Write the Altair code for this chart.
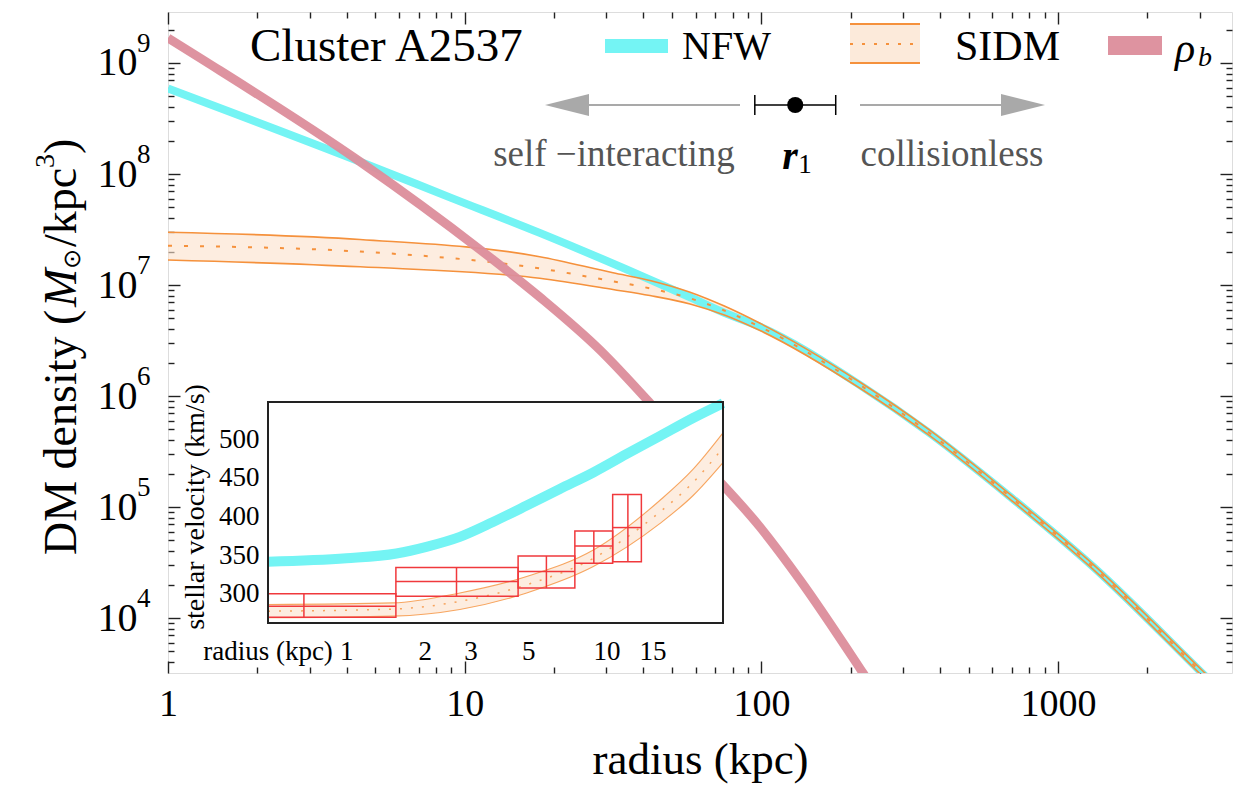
import altair as alt
import pandas as pd

# ---------------- main panel values ----------------
nfw_r   = [1, 4.44, 9, 17.9, 42.1, 57.5, 75, 98.9, 215, 370, 689, 1312, 3055, 4000]
nfw_rho = [5.89e8, 1.29e8, 6.1e7, 2.95e7, 1.12e7, 7.76e6, 5.62e6, 4.21e6, 1.256e6,
           4.61e5, 1.24e5, 2.9e4, 3.2e3, 1.58e3]

rhob_r   = [1, 1.31, 4.44, 11.3, 17.9, 28.6, 42.1, 62.1, 98.9, 135, 220, 260]
rhob_rho = [1.68e9, 1.07e9, 1.29e8, 2.07e7, 7.8e6, 2.59e6, 8.65e5, 2.65e5, 6.61e4, 2.2e4, 3.2e3, 1.62e3]

sidm_r     = [1, 4.44, 17.9, 31.6, 42.1, 57.5, 75, 98.9, 215, 370, 689, 1312, 3055, 4000]
sidm_upper = [2.99e7, 2.57e7, 1.80e7, 1.29e7, 1.10e7, 8.61e6, 6.46e6, 4.52e6, 1.33e6, 4.90e5,
              1.30e5, 3.05e4, 3.39e3, 1.68e3]
sidm_mid   = [2.26e7, 2.0e7, 1.41e7, 1.08e7, 9.33e6, 7.59e6, 5.89e6, 4.21e6, 1.256e6, 4.61e5,
              1.24e5, 2.90e4, 3.20e3, 1.58e3]
sidm_lower = [1.68e7, 1.46e7, 1.15e7, 9.12e6, 8.04e6, 6.76e6, 5.37e6, 3.89e6, 1.175e6, 4.37e5,
              1.175e5, 2.75e4, 3.02e3, 1.50e3]

r1_val = [130]
r1_lo = [95]
r1_hi = [178]

x_major = [1, 10, 100, 1000]
x_minor = [2, 3, 4, 5, 6, 7, 8, 9, 20, 30, 40, 50, 60, 70, 80, 90,
           200, 300, 400, 500, 600, 700, 800, 900, 2000, 3000]
y_major = [1e4, 1e5, 1e6, 1e7, 1e8, 1e9]
y_exp = ["4", "5", "6", "7", "8", "9"]
y_minor = [4e3, 5e3, 6e3, 7e3, 8e3, 9e3] + [k * 10 ** e for e in range(4, 9) for k in range(2, 10)] + [2e9]

# ---------------- inset values ----------------
vel_r   = [0.5, 1, 1.557, 2.03, 2.73, 3.66, 4.93, 6.61, 8.89, 11.9, 16.0, 21.5, 28]
vel_nfw = [341.4, 345.8, 352, 360.6, 373.5, 392.7, 414, 435.5, 456.8, 480.4, 503.8, 527.3, 546.5]

vs_r     = [0.5, 1.51, 2.73, 4.93, 8.89, 16.0, 21.5, 28]
vs_upper = [285.9, 288, 300.9, 322.2, 356.4, 420.5, 461, 508]
vs_mid   = [277.3, 280, 290, 311.5, 345.7, 405.5, 444, 488.8]
vs_lower = [268.8, 270.9, 279.5, 300.9, 335, 390.6, 427, 469.6]

obs_rlo = [0.3, 1.55, 4.57, 7.55, 10.55]
obs_rhi = [1.55, 4.57, 7.55, 10.55, 13.6]
obs_rc  = [0.687, 2.65, 5.87, 8.93, 12.07]
obs_vlo = [269.6, 296.5, 307.3, 339.3, 341.4]
obs_vhi = [300, 333.7, 348.7, 381.2, 428.2]
obs_vc  = [283.8, 315.8, 328.6, 361.5, 385.5]

in_x_labels = [1, 2, 3, 5, 10, 15]
in_x_minor = [2, 3, 4, 5, 6, 7, 8, 9, 10, 11, 12, 13, 14, 15, 16, 17, 18, 19, 20]
in_y_ticks = [300, 350, 400, 450, 500]

# ---------------- styling ----------------
SERIF = "Liberation Serif"
CYAN = "#74F4F4"
PINK = "#DC8D9B"
ORANGE = "#F5913C"
BANDFILL = "#FBE1CB"
RED = "#F0393C"
GRAY = "#A9A9A9"
W, H = 1064, 661

xs = alt.Scale(type="log", domain=[1, 3855], nice=False)
ys = alt.Scale(type="log", domain=[3200, 2.88e9], nice=False)

nfw_df = pd.DataFrame({"r": nfw_r, "rho": nfw_rho})
rhob_df = pd.DataFrame({"r": rhob_r, "rho": rhob_rho})
sidm_df = pd.DataFrame({"r": sidm_r, "up": sidm_upper, "mid": sidm_mid, "lo": sidm_lower})
r1_df = pd.DataFrame({"r": r1_val, "lo": r1_lo, "hi": r1_hi})
ylab_df = pd.DataFrame({"v": y_major, "e": y_exp})


def X(field):
    return alt.X(field, type="quantitative", scale=xs, axis=None)


def Y(field):
    return alt.Y(field, type="quantitative", scale=ys, axis=None)


band_area = alt.Chart(sidm_df).mark_area(color=BANDFILL, opacity=0.6, clip=True, interpolate="monotone").encode(
    x=X("r"), y=Y("up"), y2=alt.Y2("lo"))
cyan = alt.Chart(nfw_df).mark_line(color=CYAN, strokeWidth=8, clip=True, interpolate="monotone").encode(
    x=X("r"), y=Y("rho"))
band_up = alt.Chart(sidm_df).mark_line(color=ORANGE, strokeWidth=1.6, clip=True, interpolate="monotone").encode(
    x=X("r"), y=Y("up"))
band_lo = alt.Chart(sidm_df).mark_line(color=ORANGE, strokeWidth=1.6, clip=True, interpolate="monotone").encode(
    x=X("r"), y=Y("lo"))
band_mid = alt.Chart(sidm_df).mark_line(color=ORANGE, strokeWidth=2, strokeDash=[4, 12], clip=True,
                                        interpolate="monotone").encode(x=X("r"), y=Y("mid"))
pink = alt.Chart(rhob_df).mark_line(color=PINK, strokeWidth=9, clip=True, interpolate="monotone",
                                    opacity=0.95).encode(x=X("r"), y=Y("rho"))

# superscript exponents of the y tick labels
y_sup = alt.Chart(ylab_df).mark_text(font=SERIF, fontSize=27, align="left", baseline="middle", dy=-19,
                                     color="black").encode(
    x=alt.value(-31), y=alt.Y("v", type="quantitative", scale=ys, axis=None), text="e:N")

# r1 marker
R1Y = 93
r1_bar = alt.Chart(r1_df).mark_rule(color="black", strokeWidth=1.5).encode(
    x=X("lo"), x2=alt.X2("hi"), y=alt.value(R1Y))
r1_cap_l = alt.Chart(r1_df).mark_rule(color="black", strokeWidth=1.5).encode(
    x=X("lo"), y=alt.value(R1Y - 10), y2=alt.value(R1Y + 10))
r1_cap_r = alt.Chart(r1_df).mark_rule(color="black", strokeWidth=1.5).encode(
    x=X("hi"), y=alt.value(R1Y - 10), y2=alt.value(R1Y + 10))
r1_dot = alt.Chart(r1_df).mark_circle(color="black", size=260, opacity=1).encode(
    x=X("r"), y=alt.value(R1Y))


def ax_layer(xaxis, yaxis):
    return alt.Chart(nfw_df).mark_point(opacity=0, clip=True).encode(
        x=alt.X("r", type="quantitative", scale=xs, axis=xaxis),
        y=alt.Y("rho", type="quantitative", scale=ys, axis=yaxis))


def tick_axis(orient, values, size, offset):
    return alt.Axis(orient=orient, values=values, offset=offset, tickSize=size, ticks=True,
                    tickColor="#222", tickWidth=1.4, labels=False, domain=False, grid=False, title=None)


x_lab = alt.Axis(orient="bottom", values=x_major, format="d", ticks=False, domain=False, grid=False,
                 labelFont=SERIF, labelFontSize=38, labelColor="black", labelPadding=12,
                 labelFlush=False, labelOverlap=False,
                 title="radius (kpc)", titleFont=SERIF, titleFontSize=45, titleFontWeight="normal",
                 titleColor="black", titlePadding=14)
y_lab = alt.Axis(orient="left", values=y_major, ticks=False, domain=False, grid=False,
                 labelExpr="'10'",
                 labelFont=SERIF, labelFontSize=40, labelColor="black", labelPadding=31,
                 labelFlush=False, labelOverlap=False, title=None)

main_axes = [
    ax_layer(x_lab, y_lab),
    ax_layer(tick_axis("bottom", x_major, 12, -12), tick_axis("left", y_major, 12, -12)),
    ax_layer(tick_axis("bottom", x_minor, 6, -6), tick_axis("left", y_minor, 6, -6)),
    ax_layer(tick_axis("top", x_major, 12, -12), tick_axis("right", y_major, 12, -12)),
    ax_layer(tick_axis("top", x_minor, 6, -6), tick_axis("right", y_minor, 6, -6)),
]

main = alt.layer(band_area, cyan, band_up, band_lo, band_mid, pink, y_sup,
                 r1_bar, r1_cap_l, r1_cap_r, r1_dot, *main_axes).resolve_axis(x="independent", y="independent")

# ---------------- inset ----------------
IX0, IX1, IY0, IY1 = 100, 555, 390, 611
xi = alt.Scale(type="log", domain=[0.5, 28], range=[IX0, IX1], clamp=True, nice=False)
yi = alt.Scale(domain=[262, 548], range=[IY1, IY0], clamp=True, nice=False, zero=False)

vel_df = pd.DataFrame({"ri": vel_r, "v": vel_nfw})
vs_df = pd.DataFrame({"ri": vs_r, "up": vs_upper, "mid": vs_mid, "lo": vs_lower})
obs_df = pd.DataFrame({"rlo": obs_rlo, "rhi": obs_rhi, "rc": obs_rc,
                       "vlo": obs_vlo, "vhi": obs_vhi, "vc": obs_vc})
one = pd.DataFrame({"k": [0]})


def XI(field):
    return alt.X(field, type="quantitative", scale=xi, axis=None)


def YI(field):
    return alt.Y(field, type="quantitative", scale=yi, axis=None)


in_bg = alt.Chart(one).mark_rect(color="white", opacity=1).encode(
    x=alt.value(IX0), x2=alt.value(IX1), y=alt.value(IY0), y2=alt.value(IY1))
in_cyan = alt.Chart(vel_df).mark_line(color=CYAN, strokeWidth=10, interpolate="monotone").encode(
    x=XI("ri"), y=YI("v"))
in_band = alt.Chart(vs_df).mark_area(color=BANDFILL, opacity=0.6, interpolate="monotone").encode(
    x=XI("ri"), y=YI("up"), y2=alt.Y2("lo"))
in_up = alt.Chart(vs_df).mark_line(color=ORANGE, strokeWidth=1.1, opacity=0.8, interpolate="monotone").encode(
    x=XI("ri"), y=YI("up"))
in_lo = alt.Chart(vs_df).mark_line(color=ORANGE, strokeWidth=1.1, opacity=0.8, interpolate="monotone").encode(
    x=XI("ri"), y=YI("lo"))
in_mid = alt.Chart(vs_df).mark_line(color=ORANGE, strokeWidth=1.5, strokeDash=[2, 9], opacity=0.8,
                                    interpolate="monotone").encode(x=XI("ri"), y=YI("mid"))
in_box = alt.Chart(obs_df).mark_rect(fillOpacity=0, stroke=RED, strokeWidth=1.5).encode(
    x=XI("rlo"), x2=alt.X2("rhi"), y=YI("vlo"), y2=alt.Y2("vhi"))
in_vr = alt.Chart(obs_df).mark_rule(color=RED, strokeWidth=1.5).encode(
    x=XI("rc"), y=YI("vlo"), y2=alt.Y2("vhi"))
in_hr = alt.Chart(obs_df).mark_rule(color=RED, strokeWidth=1.5).encode(
    x=XI("rlo"), x2=alt.X2("rhi"), y=YI("vc"))
in_frame = alt.Chart(one).mark_rect(fillOpacity=0, stroke="#222", strokeWidth=2).encode(
    x=alt.value(IX0), x2=alt.value(IX1), y=alt.value(IY0), y2=alt.value(IY1))


def in_ax_layer(xaxis, yaxis):
    return alt.Chart(vel_df).mark_point(opacity=0).encode(
        x=alt.X("ri", type="quantitative", scale=xi, axis=xaxis),
        y=alt.Y("v", type="quantitative", scale=yi, axis=yaxis))


in_x_lab = alt.Axis(orient="bottom", values=in_x_labels, format="d", offset=-(H - IY1), ticks=False,
                    domain=False, grid=False, labelFont=SERIF, labelFontSize=27, labelColor="black",
                    labelPadding=15, labelFlush=False, labelOverlap=False, title=None)
in_y_lab = alt.Axis(orient="left", values=in_y_ticks, offset=-IX0, ticks=False, domain=False, grid=False,
                    labelFont=SERIF, labelFontSize=27, labelColor="black", labelPadding=9,
                    labelFlush=False, labelOverlap=False, title=None)

inset_axes = [
    in_ax_layer(in_x_lab, in_y_lab),
    in_ax_layer(tick_axis("bottom", [1], 8, -(H - IY1) - 8), tick_axis("left", in_y_ticks, 8, -IX0 - 8)),
    in_ax_layer(tick_axis("bottom", in_x_minor, 5, -(H - IY1) - 5), tick_axis("right", in_y_ticks, 8, IX1 - 8 - W)),
    in_ax_layer(tick_axis("top", [1], 8, -IY0 - 8), None),
    in_ax_layer(tick_axis("top", in_x_minor, 5, -IY0 - 5), None),
]

inset = alt.layer(in_bg, in_band, in_cyan, in_up, in_lo, in_mid, in_box, in_vr, in_hr, in_frame,
                  *inset_axes).resolve_axis(x="independent", y="independent")


# ---------------- annotations / legend ----------------
def txt(s, x, y, size, color="black", align="center", style="normal", weight="normal", angle=None):
    kw = dict(text=s, font=SERIF, fontSize=size, color=color, align=align, baseline="middle",
              fontStyle=style, fontWeight=weight)
    if angle is not None:
        kw["angle"] = angle
    return alt.Chart(one).mark_text(**kw).encode(x=alt.value(x), y=alt.value(y))


def hrule(x0, x1, y, color, width, dash=None):
    kw = dict(color=color, strokeWidth=width)
    if dash:
        kw["strokeDash"] = dash
    return alt.Chart(one).mark_rule(**kw).encode(x=alt.value(x0), x2=alt.value(x1), y=alt.value(y))


def box(x0, x1, y0, y1, color, opacity=1.0):
    return alt.Chart(one).mark_rect(color=color, opacity=opacity).encode(
        x=alt.value(x0), x2=alt.value(x1), y=alt.value(y0), y2=alt.value(y1))


def head(x, y, path):
    return alt.Chart(one).mark_point(shape=path, size=1936, filled=True, color=GRAY, opacity=1).encode(
        x=alt.value(x), y=alt.value(y))


TX = -106  # y-title column
annot = [
    txt("Cluster A2537", 82, 35, 47, align="left"),
    hrule(437, 500, 34, CYAN, 14),
    txt("NFW", 514, 35, 40, align="left"),
    box(682, 752, 12, 51, BANDFILL, 0.7),
    hrule(682, 752, 12, ORANGE, 2),
    hrule(682, 752, 51, ORANGE, 2),
    hrule(682, 752, 32, ORANGE, 2, [3, 9]),
    txt("SIDM", 787, 35, 42, align="left"),
    box(940, 994, 24, 43, PINK, 0.95),
    txt("ρ", 1007, 37, 42, align="left", style="italic"),
    txt("b", 1030, 46, 28, align="left", style="italic"),
    # arrows
    hrule(412, 572, 93, GRAY, 2),
    head(399, 93, "M-1,0L1,-0.5L1,0.5Z"),
    hrule(692, 842, 93, GRAY, 2),
    head(855, 93, "M1,0L-1,-0.5L-1,0.5Z"),
    txt("self −interacting", 446, 143, 37, color="#555555"),
    txt("r", 622, 145, 40, style="italic", weight="bold"),
    txt("1", 637, 153, 27),
    txt("collisionless", 784, 143, 37, color="#555555"),
    # main y title, built from pieces (rotated)
    txt("DM density  (", TX, 543, 46, align="left", angle=270),
    txt("M", TX, 295, 46, align="left", style="italic", angle=270),
    txt("⊙", TX + 11, 257, 24, align="left", angle=270),
    txt("/kpc", TX, 235, 46, align="left", angle=270),
    txt("3", TX - 16, 156, 28, align="left", angle=270),
    txt(")", TX, 142, 46, align="left", angle=270),
    # inset titles
    txt("stellar velocity (km/s)", 28, 495, 28, angle=270),
    txt("radius (kpc)", 100, 640, 27),
]

chart = alt.layer(main, inset, *annot).resolve_scale(x="independent", y="independent").properties(
    width=W, height=H,
    autosize=alt.AutoSizeParams(type="none"),
    padding={"left": 168, "top": 12, "right": 2, "bottom": 117},
).configure_view(stroke="#222", strokeWidth=2).configure(background="white")

chart.save("out.html", embed_options={"renderer": "svg", "actions": False})
